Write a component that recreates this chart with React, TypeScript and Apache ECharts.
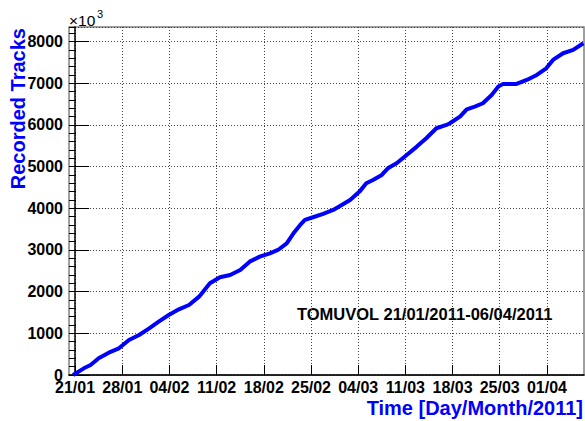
import React, { useEffect, useRef } from 'react';
import * as echarts from 'echarts';

const xTickDays = [0, 7, 14, 21, 28, 35, 42, 49, 56, 63, 70];
const xTickLabels = ['21/01', '28/01', '04/02', '11/02', '18/02', '25/02', '04/03', '11/03', '18/03', '25/03', '01/04'];

// days since 21/01/2011
const days = [-0.3, 1.3, 2.3, 3.5, 5.0, 6.5, 8.0, 9.5, 11.0, 12.4, 13.9, 15.4, 16.9, 18.4, 20.0, 21.5, 23.0, 24.5, 25.9, 27.4, 28.9, 30.1, 31.4, 32.4, 33.4, 34.1, 35.3, 36.8, 38.3, 39.3, 40.8, 42.2, 43.2, 44.2, 45.5, 46.4, 47.7, 49.2, 50.7, 52.1, 53.6, 55.1, 55.6, 57.1, 58.1, 59.3, 60.5, 61.8, 62.8, 63.5, 65.5, 67.0, 68.5, 69.9, 70.9, 72.4, 73.9, 75.4];
// recorded tracks (x10^3)
const tracks = [0, 160, 240, 400, 535, 640, 840, 960, 1120, 1280, 1440, 1575, 1680, 1880, 2200, 2345, 2400, 2520, 2720, 2840, 2920, 3000, 3160, 3400, 3600, 3720, 3785, 3865, 3960, 4055, 4200, 4400, 4600, 4680, 4800, 4960, 5080, 5280, 5480, 5680, 5920, 6000, 6040, 6200, 6375, 6440, 6520, 6720, 6920, 6985, 6985, 7080, 7200, 7360, 7560, 7720, 7800, 7960];

const FONT = '"Liberation Sans", Arial, Helvetica, sans-serif';

export default function App() {
  const ref = useRef<HTMLDivElement>(null);
  useEffect(() => {
    const chart = echarts.init(ref.current!, null, { renderer: 'svg' });
    const data = days.map((d, i) => [d, tracks[i]]);
    const dotted = { show: true, lineStyle: { color: '#444', width: 1, type: [1, 2] as any } };
    chart.setOption({
      animation: false,
      backgroundColor: '#fff',
      textStyle: { fontFamily: FONT },
      grid: {
        left: 69, top: 27, right: 1, bottom: 46,
        show: true, borderColor: '#808080', borderWidth: 1.5, backgroundColor: 'transparent',
      },
      xAxis: {
        type: 'value', min: -0.9, max: 75.5,
        axisLine: { show: true, lineStyle: { color: '#000', width: 1.5 } },
        axisTick: { show: true, inside: true, length: 10, customValues: xTickDays, lineStyle: { color: '#000' } },
        axisLabel: {
          customValues: xTickDays,
          formatter: (v: number) => { const i = xTickDays.indexOf(v); return i >= 0 ? xTickLabels[i] : ''; },
          color: '#000', fontWeight: 'bold', fontSize: 16, fontFamily: FONT, margin: 4,
        },
        splitLine: dotted,
      },
      yAxis: [
        {
          type: 'value', min: 0, max: 8350, interval: 1000,
          axisLine: { show: true, lineStyle: { color: '#000', width: 1.5 } },
          axisTick: { show: true, inside: true, length: 14, lineStyle: { color: '#000' } },
          axisLabel: {
            color: '#000', fontWeight: 'bold', fontSize: 16, fontFamily: FONT, margin: 6, showMaxLabel: false,
            formatter: (v: number) => String(v),
          },
          splitLine: dotted,
        },
        {
          type: 'value', min: 0, max: 8350, interval: 200, position: 'left',
          axisLine: { show: false },
          axisTick: { show: true, inside: true, length: 7, lineStyle: { color: '#000' } },
          axisLabel: { show: false },
          splitLine: { show: false },
        },
      ],
      series: [
        {
          type: 'line', data, yAxisIndex: 0, showSymbol: false, smooth: false,
          lineStyle: { color: '#0000ff', width: 4 }, itemStyle: { color: '#0000ff' }, z: 5,
        },
      ],
      graphic: [
        { type: 'text', x: 69, y: 20, style: { text: '×10', fontSize: 15.5, fontFamily: FONT, fill: '#000', textVerticalAlign: 'middle' } },
        { type: 'text', x: 97, y: 14, style: { text: '3', fontSize: 11, fontFamily: FONT, fill: '#000', textVerticalAlign: 'middle' } },
        { type: 'text', x: 18, y: 28, rotation: Math.PI / 2, style: { text: 'Recorded Tracks', fontSize: 20, fontWeight: 'bold', fontFamily: FONT, fill: '#0000ff', textAlign: 'right', textVerticalAlign: 'middle' } },
        { type: 'text', x: 583, y: 408, style: { text: 'Time [Day/Month/2011]', fontSize: 20, fontWeight: 'bold', fontFamily: FONT, fill: '#0000ff', textAlign: 'right', textVerticalAlign: 'middle' } },
        { type: 'text', x: 297, y: 314, style: { text: 'TOMUVOL 21/01/2011-06/04/2011', fontSize: 16.5, fontWeight: 'bold', fontFamily: FONT, fill: '#000', textAlign: 'left', textVerticalAlign: 'middle' } },
      ],
    });
    return () => chart.dispose();
  }, []);
  return <div ref={ref} style={{ position: 'fixed', left: 0, top: 0, width: 585, height: 421 }} />;
}
